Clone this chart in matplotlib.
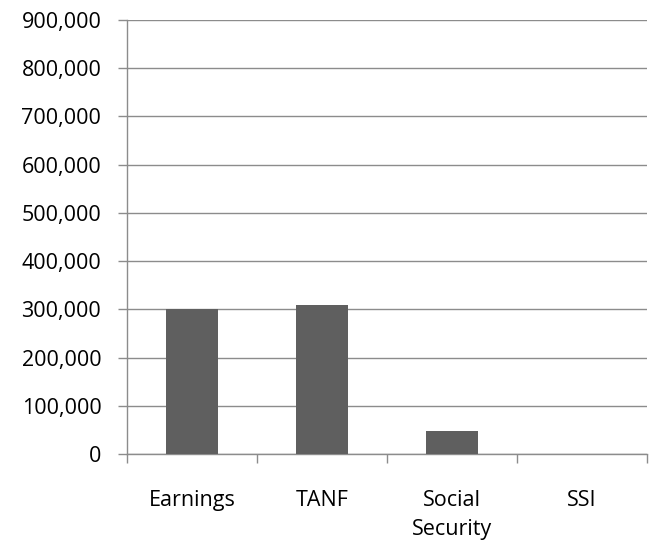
import matplotlib
matplotlib.use("Agg")
import matplotlib.pyplot as plt
from matplotlib.ticker import FuncFormatter, MultipleLocator

categories = ["Earnings", "TANF", "Social\nSecurity", "SSI"]
values = [300000, 309000, 48000, 0]

plt.rcParams['font.family'] = ['Open Sans', 'DejaVu Sans']
fig = plt.figure(figsize=(6.5, 5.43), dpi=100)
ax = fig.add_axes([127/650, 89/543, 520/650, 434/543])

x = list(range(len(categories)))
ax.bar(x, values, width=0.4, color="#5f5f5f", zorder=3)
ax.set_xlim(-0.5, len(categories) - 0.5)
ax.set_ylim(0, 900000)
ax.yaxis.set_major_locator(MultipleLocator(100000))
ax.yaxis.set_major_formatter(FuncFormatter(lambda v, p: f"{int(v):,}"))
ax.grid(axis="y", color="#8c8c8c", linewidth=1, zorder=0)
ax.set_axisbelow(True)
for s in ["top", "right"]:
    ax.spines[s].set_visible(False)
for s in ["left", "bottom"]:
    ax.spines[s].set_color("#8c8c8c")
    ax.spines[s].set_linewidth(1)

ax.set_xticks([i - 0.5 for i in range(len(categories) + 1)])
ax.set_xticklabels([])
ax.set_xticks(x, minor=True)
ax.set_xticklabels(categories, minor=True, fontsize=15.5, linespacing=1.5)
ax.tick_params(axis="x", which="major", length=6.5, color="#8c8c8c", width=1)
ax.tick_params(axis="x", which="minor", length=0, pad=26)
ax.tick_params(axis="y", length=6.5, color="#8c8c8c", width=1, labelsize=15.5, pad=12)
fig.savefig("out.png", dpi=100)
